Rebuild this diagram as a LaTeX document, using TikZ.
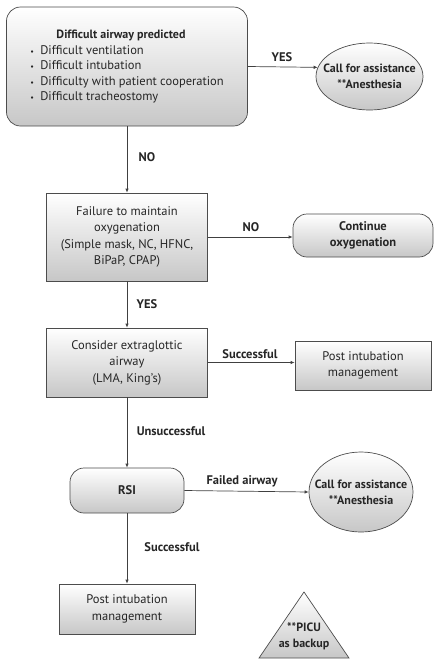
\documentclass[tikz,border=0pt]{standalone}
\usepackage{fontspec}
\setmainfont{PT Sans}
\usetikzlibrary{shapes.geometric,arrows.meta}

\tikzset{
  box/.style={draw=black!70, line width=0.7pt, top color=white, bottom color=black!22,
    text=black!85, align=center, inner sep=0pt},
  lbl/.style={font=\fontsize{12.5}{16.5}\selectfont\bfseries, text=black!85},
  >={Latex[length=4pt,width=3.5pt]},
}

\begin{document}
\begin{tikzpicture}[x=1pt, y=-1pt, every node/.style={font=\fontsize{12.5}{16.5}\selectfont}]
  \useasboundingbox (0,0) rectangle (443,665);

  \node[box, rounded corners=14pt, minimum width=241pt, minimum height=119pt] (pred) at (127,66.5)
    {\begin{tabular}{@{}l@{}}
     \multicolumn{1}{c}{\hspace{-12pt}\fontsize{12}{16.5}\selectfont\textbf{Difficult airway predicted}}\\[-1pt]
     \makebox[10pt][l]{\footnotesize\textbullet}Difficult ventilation\\[-1pt]
     \makebox[10pt][l]{\footnotesize\textbullet}Difficult intubation\\[-1pt]
     \makebox[10pt][l]{\footnotesize\textbullet}Difficulty with patient cooperation\\[-1pt]
     \makebox[10pt][l]{\footnotesize\textbullet}Difficult tracheostomy
     \end{tabular}};
  \node[box, ellipse, minimum width=107pt, minimum height=67pt] (call1) at (369.5,76.5) {};
  \node[lbl, align=center, font=\fontsize{12}{16}\selectfont\bfseries] (call1txt) at (call1)
    {Call for assistance\\**Anesthesia};
  \node[box, minimum width=161pt, minimum height=88pt] (fail) at (127,237)
    {Failure to maintain\\oxygenation\\(Simple mask, NC, HFNC,\\BiPaP, CPAP)};
  \node[box, rounded corners=14pt, minimum width=140pt, minimum height=43pt] (cont) at (363,235.5)
    {\bfseries Continue\\\bfseries oxygenation};
  \node[box, minimum width=161pt, minimum height=69pt] (ega) at (127,362.5)
    {Consider extraglottic\\airway\\(LMA, King’s)};
  \node[box, minimum width=136pt, minimum height=49pt] (post1) at (363,365.5)
    {Post intubation\\management};
  \node[box, rounded corners=14pt, minimum width=114pt, minimum height=45pt] (rsi) at (127,490.5)
    {\bfseries RSI};
  \node[box, ellipse, minimum width=104pt, minimum height=80pt] (call2) at (361,492) {};
  \node[lbl, align=center, font=\fontsize{12}{16}\selectfont\bfseries] (call2txt) at (call2)
    {Call for assistance\\**Anesthesia};
  \node[box, minimum width=136pt, minimum height=50pt] (post2) at (127,609)
    {Post intubation\\management};

  % backup triangle
  \draw[draw=black!70, line width=0.7pt, top color=white, bottom color=black!22]
    (304,592) -- (349,658) -- (259,658) -- cycle;
  \node[lbl, align=center, font=\fontsize{12}{15.5}\selectfont\bfseries] (picu) at (304,636.5)
    {**PICU\\as backup};

  % arrows
  \draw[->, black!75, line width=0.7pt] (pred.east) -- (call1.170);
  \draw[->, black!75, line width=0.7pt] (pred) -- (fail);
  \draw[->, black!75, line width=0.7pt] (fail.east) -- (fail.east -| cont.west);
  \draw[->, black!75, line width=0.7pt] (fail) -- (ega);
  \draw[->, black!75, line width=0.7pt] (ega.east) -- (ega.east -| post1.west);
  \draw[->, black!75, line width=0.7pt] (ega) -- (rsi);
  \draw[->, black!75, line width=0.7pt] (rsi.east) -- (call2.west);
  \draw[->, black!75, line width=0.7pt] (rsi) -- (post2);

  % labels
  \node[lbl] (yes1) at (282,57) {YES};
  \node[lbl] (no1) at (147,157) {NO};
  \node[lbl] (no2) at (251,227) {NO};
  \node[lbl] (yes2) at (147,304) {YES};
  \node[lbl] (succ1) at (250,354) {Successful};
  \node[lbl] (unsucc) at (171,431) {Unsuccessful};
  \node[lbl] (failed) at (242,481) {Failed airway};
  \node[lbl] (succ2) at (172,547) {Successful};
\end{tikzpicture}
\end{document}
